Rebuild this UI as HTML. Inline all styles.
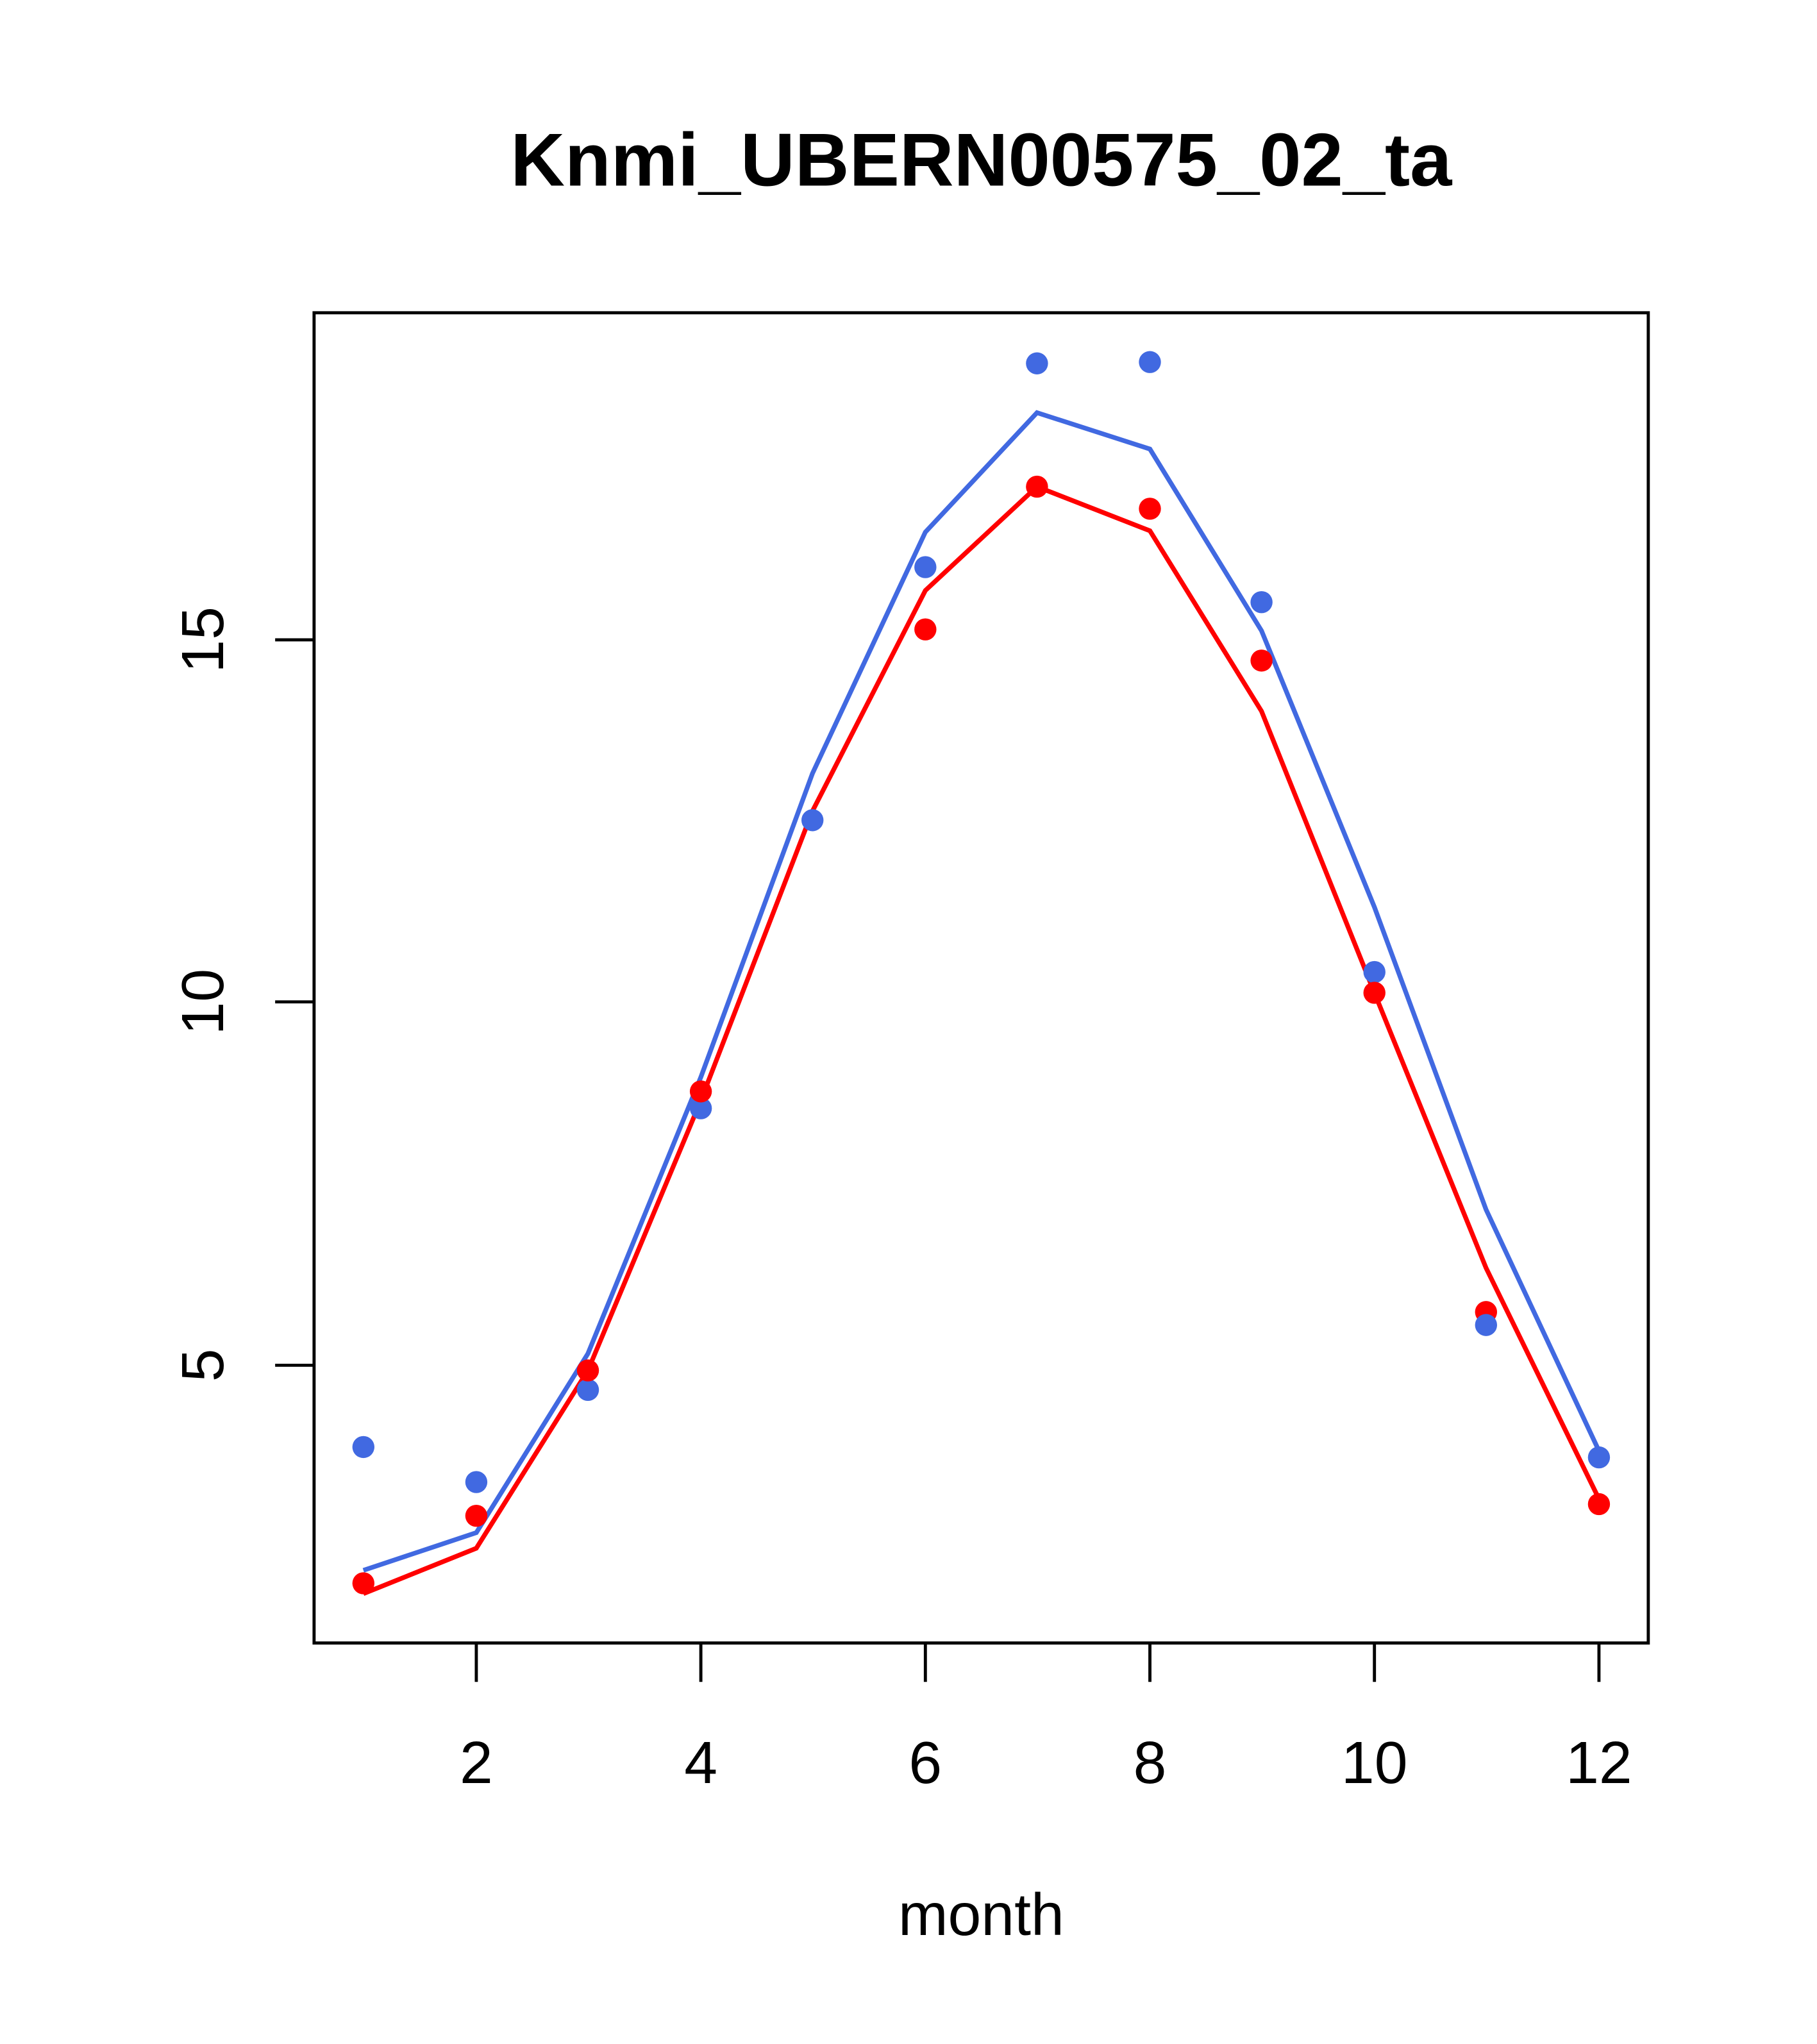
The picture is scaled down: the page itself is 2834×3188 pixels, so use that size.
<!DOCTYPE html>
<html><head><meta charset="utf-8"><style>html,body{margin:0;padding:0;background:#fff}svg{display:block}</style></head>
<body>
<svg width="2834" height="3188" viewBox="0 0 1400 1575" preserveAspectRatio="none" xmlns="http://www.w3.org/2000/svg" font-family="Liberation Sans, sans-serif">
<rect width="1400" height="1575" fill="#fff"/>
<text x="756" y="143" font-size="58" font-weight="bold" text-anchor="middle">Knmi_UBERN00575_02_ta</text>
<rect x="242" y="241" width="1028" height="1025" fill="none" stroke="#000" stroke-width="2.4"/>
<g stroke="#000" stroke-width="2.4">
<line x1="367" y1="1266" x2="367" y2="1296"/><line x1="540" y1="1266" x2="540" y2="1296"/>
<line x1="713" y1="1266" x2="713" y2="1296"/><line x1="886" y1="1266" x2="886" y2="1296"/>
<line x1="1059" y1="1266" x2="1059" y2="1296"/><line x1="1232" y1="1266" x2="1232" y2="1296"/>
<line x1="242" y1="493" x2="212" y2="493"/><line x1="242" y1="772" x2="212" y2="772"/><line x1="242" y1="1052" x2="212" y2="1052"/>
</g>
<g font-size="46" text-anchor="middle">
<text x="367" y="1374">2</text><text x="540" y="1374">4</text><text x="713" y="1374">6</text>
<text x="886" y="1374">8</text><text x="1059" y="1374">10</text><text x="1232" y="1374">12</text>
<text transform="translate(172,493) rotate(-90)">15</text>
<text transform="translate(172,772) rotate(-90)">10</text>
<text transform="translate(172,1052) rotate(-90)">5</text>
<text x="756" y="1491">month</text>
</g>
<polyline fill="none" stroke="#4169e1" stroke-width="3.6" points="280,1210 367,1181 453,1043 540,830 626,596 713,410 799,318 886,346 972,486 1059,699 1145,932 1232,1118"/>
<polyline fill="none" stroke="#ff0000" stroke-width="3.6" points="280,1228 367,1193 453,1056 540,848 626,625 713,455 799,375 886,409 972,548 1059,765 1145,977 1232,1155"/>
<g fill="#4169e1">
<circle cx="280" cy="1115" r="8.5"/><circle cx="367" cy="1142" r="8.5"/><circle cx="453" cy="1071" r="8.5"/><circle cx="540" cy="854" r="8.5"/>
<circle cx="713" cy="437" r="8.5"/><circle cx="799" cy="280" r="8.5"/><circle cx="886" cy="279" r="8.5"/>
<circle cx="972" cy="464" r="8.5"/><circle cx="1059" cy="749" r="8.5"/>
</g>
<g fill="#ff0000">
<circle cx="280" cy="1220" r="8.5"/><circle cx="367" cy="1168" r="8.5"/><circle cx="453" cy="1056" r="8.5"/><circle cx="540" cy="841" r="8.5"/>
<circle cx="713" cy="485" r="8.5"/><circle cx="799" cy="375" r="8.5"/><circle cx="886" cy="392" r="8.5"/>
<circle cx="972" cy="509" r="8.5"/><circle cx="1059" cy="765" r="8.5"/><circle cx="1145" cy="1011" r="8.5"/><circle cx="1232" cy="1159" r="8.5"/>
</g>
<circle cx="626" cy="632" r="8.5" fill="#4169e1"/>
<circle cx="1145" cy="1021" r="8.5" fill="#4169e1"/>
<circle cx="1232" cy="1123" r="8.5" fill="#4169e1"/>
</svg>
</body></html>
